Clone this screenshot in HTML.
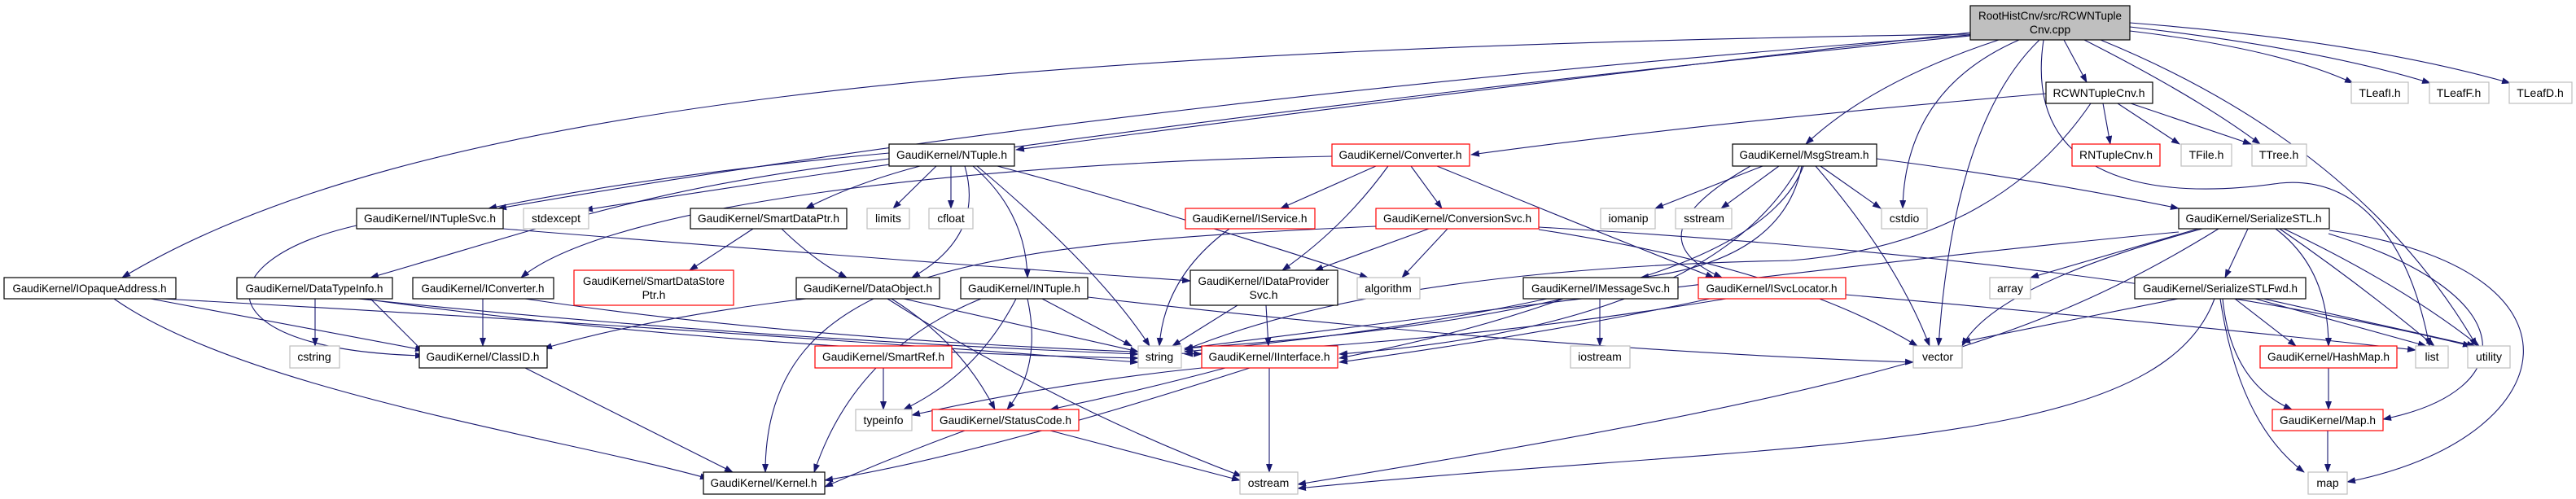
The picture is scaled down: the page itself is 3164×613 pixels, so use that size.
<!DOCTYPE html>
<html><head><meta charset="utf-8"><style>
html,body{margin:0;padding:0;background:#fff;}
svg{display:block;}
text{font-family:"Liberation Sans",sans-serif;font-size:14px;fill:#000;}
.e{fill:none;stroke:#191970;stroke-width:1.1;}
.b{fill:#fff;stroke:#000;stroke-width:1.2;}
.g{fill:#fff;stroke:#bfbfbf;stroke-width:1.2;}
.r{fill:#fff;stroke:#ff0000;stroke-width:1.2;}
</style></head><body>
<svg width="3164" height="613" viewBox="0 0 3164 613" xmlns="http://www.w3.org/2000/svg">
<defs><marker id="a" markerWidth="11" markerHeight="8" refX="10" refY="4" orient="auto" markerUnits="userSpaceOnUse"><path d="M0,0 L11,4 L0,8 z" fill="#191970"/></marker></defs>
<g class="e" marker-end="url(#a)">
<!-- root -->
<path d="M2420 40 Q1800 110 1248 184"/>
<path d="M2420 43 Q1400 120 612 256"/>
<path d="M2420 44 Q1500 135 718 258"/>
<path d="M2420 42 C1200 60 500 130 150 341"/>
<path d="M2455 49 Q2300 100 2218 177"/>
<path d="M2535 49 L2563 101"/>
<path d="M2480 49 Q2340 110 2337 256"/>
<path d="M2505 49 Q2400 150 2381 425"/>
<path d="M2510 49 C2480 250 2700 240 2800 225 C2900 215 2960 300 2984 425"/>
<path d="M2580 49 Q2900 180 3042 425"/>
<path d="M2560 49 Q2700 120 2776 177"/>
<path d="M2616 38 Q2800 60 2890 102"/>
<path d="M2616 33 Q2850 60 2985 102"/>
<path d="M2616 28 Q2900 50 3083 102"/>
<!-- NTuple -->
<path d="M1130 204 Q1050 225 990 256"/>
<path d="M1092 195 C800 230 700 270 455 341"/>
<path d="M1092 188 Q800 215 600 256"/>
<path d="M1150 204 L1097 256"/>
<path d="M1168 204 L1168 256"/>
<path d="M1185 204 Q1210 290 1120 341"/>
<path d="M1195 204 Q1260 260 1262 341"/>
<path d="M1200 204 Q1350 330 1412 425"/>
<path d="M1225 204 Q1400 250 1680 341"/>
<!-- Converter -->
<path d="M1690 204 L1573 256"/>
<path d="M1705 204 Q1650 280 1575 332"/>
<path d="M1733 204 L1771 256"/>
<path d="M1765 204 Q1950 280 2105 341"/>
<path d="M1636 192 C1200 200 750 250 640 341"/>
<!-- INTupleSvc -->
<path d="M438 277 C250 320 250 430 520 437"/>
<path d="M618 281 Q1100 320 1462 345"/>
<!-- SmartDataPtr -->
<path d="M925 281 L847 332"/>
<path d="M960 281 Q1000 320 1040 341"/>
<!-- OpaqueAddress -->
<path d="M185 367 L520 430"/>
<path d="M140 367 C300 480 700 540 870 588"/>
<path d="M200 367 Q800 400 1398 445"/>
<!-- DataTypeInfo -->
<path d="M387 367 L387 425"/>
<path d="M445 367 Q900 430 1398 440"/>
<path d="M440 367 Q900 415 1398 435"/>
<path d="M455 367 L522 434"/>
<!-- IConverter -->
<path d="M593 367 L593 425"/>
<path d="M645 367 Q1000 420 1476 435"/>
<!-- DataObject -->
<path d="M990 367 Q800 390 668 428"/>
<path d="M1110 367 Q1300 410 1398 432"/>
<path d="M1095 367 Q1180 420 1222 503"/>
<path d="M1090 367 Q1300 500 1525 585"/>
<!-- INTuple -->
<path d="M1205 367 Q1050 430 1000 580"/>
<path d="M1248 367 Q1200 460 1110 503"/>
<path d="M1262 367 Q1280 450 1237 503"/>
<path d="M1280 367 L1390 425"/>
<path d="M1336 365 Q1900 430 2350 445"/>
<!-- IDataProviderSvc -->
<path d="M1520 375 L1440 425"/>
<path d="M1555 375 L1558 425"/>
<!-- SmartRef -->
<path d="M1085 452 L1085 503"/>
<!-- Interface -->
<path d="M1476 452 Q1300 470 1120 510"/>
<path d="M1505 452 Q1400 480 1290 503"/>
<path d="M1535 452 Q1200 560 1013 590"/>
<path d="M1559 452 L1559 580"/>
<!-- StatusCode -->
<path d="M1185 529 Q1100 560 1013 598"/>
<path d="M1290 529 L1523 590"/>
<!-- ClassID -->
<path d="M645 452 L900 580"/>
<!-- IService -->
<path d="M1510 281 Q1430 340 1424 425"/>
<!-- ConversionSvc -->
<path d="M1690 278 C1200 300 940 330 940 580"/>
<path d="M1755 281 L1615 332"/>
<path d="M1778 281 L1722 341"/>
<path d="M1890 282 Q2200 330 2355 425"/>
<path d="M1890 279 Q2600 320 3035 425"/>
<!-- MsgStream -->
<path d="M2165 204 L2033 256"/>
<path d="M2185 204 L2114 256"/>
<path d="M2236 204 L2310 256"/>
<path d="M2230 204 Q2330 320 2370 425"/>
<path d="M2215 204 Q2150 380 1455 428"/>
<path d="M2213 204 Q2190 320 2015 341"/>
<path d="M2150 204 Q2000 290 2115 341"/>
<path d="M2305 195 Q2500 220 2676 256"/>
<path d="M2210 204 Q2100 400 1645 435"/>
<!-- RCWNTupleCnv -->
<path d="M2583 127 L2592 177"/>
<path d="M2601 127 L2677 177"/>
<path d="M2617 127 L2765 177"/>
<path d="M2513 115 Q2100 150 1807 190"/>
<path d="M2568 127 Q2450 300 2200 320 Q1700 330 1455 430"/>
<!-- IMessageSvc -->
<path d="M1965 367 L1965 425"/>
<path d="M1900 367 Q1700 410 1455 432"/>
<path d="M1920 367 Q1800 410 1645 440"/>
<!-- ISvcLocator -->
<path d="M2267 362 Q2700 400 2967 430"/>
<path d="M2120 367 Q1800 420 1455 435"/>
<path d="M2100 367 Q1900 410 1645 445"/>
<!-- SerializeSTL -->
<path d="M2700 281 L2494 341"/>
<path d="M2705 281 Q2450 350 2410 425"/>
<path d="M2761 281 L2733 341"/>
<path d="M2795 281 Q2860 330 2860 425"/>
<path d="M2800 281 Q2900 350 2990 425"/>
<path d="M2805 281 Q2950 350 3045 425"/>
<path d="M2860 287 C3100 360 3100 480 2927 515"/>
<path d="M2861 283 C3200 330 3150 540 2883 592"/>
<path d="M2725 281 C2500 420 2300 480 1594 595"/>
<path d="M2676 285 Q2300 320 1455 428"/>
<!-- SerializeSTLFwd -->
<path d="M2675 367 L2410 420"/>
<path d="M2745 367 L2820 425"/>
<path d="M2770 367 L2980 425"/>
<path d="M2780 367 L3040 425"/>
<path d="M2730 367 Q2740 470 2815 503"/>
<path d="M2727 367 Q2750 520 2830 580"/>
<path d="M2720 367 C2650 560 2200 540 1594 600"/>
<path d="M2860 452 L2860 503"/>
<path d="M2859 529 L2859 580"/>
</g>

<!-- nodes -->
<rect x="2420" y="7" width="196" height="42" fill="#bfbfbf" stroke="#000" stroke-width="1.2"/>
<text x="2518" y="24" text-anchor="middle" textLength="176" lengthAdjust="spacingAndGlyphs">RootHistCnv/src/RCWNTuple</text>
<text x="2518" y="41" text-anchor="middle">Cnv.cpp</text>

<g>
<rect class="b" x="2513" y="101" width="131" height="26"/><text x="2578" y="119" text-anchor="middle" textLength="113" lengthAdjust="spacingAndGlyphs">RCWNTupleCnv.h</text>
<rect class="g" x="2888" y="101" width="70" height="26"/><text x="2923" y="119" text-anchor="middle">TLeafI.h</text>
<rect class="g" x="2984" y="101" width="73" height="26"/><text x="3020" y="119" text-anchor="middle">TLeafF.h</text>
<rect class="g" x="3082" y="101" width="77" height="26"/><text x="3120" y="119" text-anchor="middle">TLeafD.h</text>

<rect class="b" x="1092" y="177" width="154" height="27"/><text x="1169" y="195" text-anchor="middle" textLength="136" lengthAdjust="spacingAndGlyphs">GaudiKernel/NTuple.h</text>
<rect class="r" x="1636" y="177" width="169" height="27"/><text x="1720" y="195" text-anchor="middle" textLength="151" lengthAdjust="spacingAndGlyphs">GaudiKernel/Converter.h</text>
<rect class="b" x="2128" y="177" width="177" height="27"/><text x="2216" y="195" text-anchor="middle" textLength="159" lengthAdjust="spacingAndGlyphs">GaudiKernel/MsgStream.h</text>
<rect class="r" x="2545" y="177" width="108" height="27"/><text x="2599" y="195" text-anchor="middle" textLength="90" lengthAdjust="spacingAndGlyphs">RNTupleCnv.h</text>
<rect class="g" x="2679" y="177" width="62" height="27"/><text x="2710" y="195" text-anchor="middle">TFile.h</text>
<rect class="g" x="2766" y="177" width="67" height="27"/><text x="2799" y="195" text-anchor="middle">TTree.h</text>

<rect class="b" x="438" y="256" width="180" height="25"/><text x="528" y="273" text-anchor="middle" textLength="162" lengthAdjust="spacingAndGlyphs">GaudiKernel/INTupleSvc.h</text>
<rect class="g" x="643" y="256" width="80" height="25"/><text x="683" y="273" text-anchor="middle">stdexcept</text>
<rect class="b" x="848" y="256" width="192" height="25"/><text x="944" y="273" text-anchor="middle" textLength="174" lengthAdjust="spacingAndGlyphs">GaudiKernel/SmartDataPtr.h</text>
<rect class="g" x="1065" y="256" width="52" height="25"/><text x="1091" y="273" text-anchor="middle">limits</text>
<rect class="g" x="1141" y="256" width="54" height="25"/><text x="1168" y="273" text-anchor="middle">cfloat</text>
<rect class="r" x="1456" y="256" width="159" height="25"/><text x="1535" y="273" text-anchor="middle" textLength="141" lengthAdjust="spacingAndGlyphs">GaudiKernel/IService.h</text>
<rect class="r" x="1690" y="256" width="200" height="25"/><text x="1790" y="273" text-anchor="middle" textLength="182" lengthAdjust="spacingAndGlyphs">GaudiKernel/ConversionSvc.h</text>
<rect class="g" x="1966" y="256" width="67" height="25"/><text x="2000" y="273" text-anchor="middle">iomanip</text>
<rect class="g" x="2058" y="256" width="69" height="25"/><text x="2093" y="273" text-anchor="middle">sstream</text>
<rect class="g" x="2311" y="256" width="56" height="25"/><text x="2339" y="273" text-anchor="middle">cstdio</text>
<rect class="b" x="2676" y="256" width="185" height="25"/><text x="2768" y="273" text-anchor="middle" textLength="167" lengthAdjust="spacingAndGlyphs">GaudiKernel/SerializeSTL.h</text>

<rect class="b" x="5" y="341" width="211" height="26"/><text x="110" y="359" text-anchor="middle" textLength="189" lengthAdjust="spacingAndGlyphs">GaudiKernel/IOpaqueAddress.h</text>
<rect class="b" x="291" y="341" width="191" height="26"/><text x="386" y="359" text-anchor="middle" textLength="169" lengthAdjust="spacingAndGlyphs">GaudiKernel/DataTypeInfo.h</text>
<rect class="b" x="507" y="341" width="173" height="26"/><text x="593" y="359" text-anchor="middle" textLength="151" lengthAdjust="spacingAndGlyphs">GaudiKernel/IConverter.h</text>
<rect class="r" x="705" y="332" width="196" height="43"/><text x="803" y="350" text-anchor="middle" textLength="174" lengthAdjust="spacingAndGlyphs">GaudiKernel/SmartDataStore</text><text x="803" y="367" text-anchor="middle">Ptr.h</text>
<rect class="b" x="978" y="341" width="176" height="26"/><text x="1066" y="359" text-anchor="middle" textLength="158" lengthAdjust="spacingAndGlyphs">GaudiKernel/DataObject.h</text>
<rect class="b" x="1180" y="341" width="156" height="26"/><text x="1258" y="359" text-anchor="middle" textLength="138" lengthAdjust="spacingAndGlyphs">GaudiKernel/INTuple.h</text>
<rect class="b" x="1462" y="332" width="181" height="43"/><text x="1552" y="350" text-anchor="middle" textLength="161" lengthAdjust="spacingAndGlyphs">GaudiKernel/IDataProvider</text><text x="1552" y="367" text-anchor="middle">Svc.h</text>
<rect class="g" x="1667" y="341" width="77" height="26"/><text x="1705" y="359" text-anchor="middle">algorithm</text>
<rect class="b" x="1871" y="341" width="190" height="26"/><text x="1966" y="359" text-anchor="middle" textLength="170" lengthAdjust="spacingAndGlyphs">GaudiKernel/IMessageSvc.h</text>
<rect class="r" x="2086" y="341" width="181" height="26"/><text x="2176" y="359" text-anchor="middle" textLength="161" lengthAdjust="spacingAndGlyphs">GaudiKernel/ISvcLocator.h</text>
<rect class="g" x="2444" y="341" width="50" height="26"/><text x="2469" y="359" text-anchor="middle">array</text>
<rect class="b" x="2622" y="341" width="210" height="26"/><text x="2727" y="359" text-anchor="middle" textLength="190" lengthAdjust="spacingAndGlyphs">GaudiKernel/SerializeSTLFwd.h</text>

<rect class="g" x="356" y="425" width="61" height="27"/><text x="386" y="443" text-anchor="middle">cstring</text>
<rect class="b" x="515" y="425" width="157" height="27"/><text x="593" y="443" text-anchor="middle" textLength="139" lengthAdjust="spacingAndGlyphs">GaudiKernel/ClassID.h</text>
<rect class="r" x="1001" y="425" width="168" height="27"/><text x="1085" y="443" text-anchor="middle" textLength="150" lengthAdjust="spacingAndGlyphs">GaudiKernel/SmartRef.h</text>
<rect class="g" x="1398" y="425" width="53" height="27"/><text x="1424" y="443" text-anchor="middle">string</text>
<rect class="r" x="1476" y="425" width="167" height="27"/><text x="1559" y="443" text-anchor="middle" textLength="149" lengthAdjust="spacingAndGlyphs">GaudiKernel/IInterface.h</text>
<rect class="g" x="1929" y="425" width="73" height="27"/><text x="1965" y="443" text-anchor="middle">iostream</text>
<rect class="g" x="2350" y="425" width="60" height="27"/><text x="2380" y="443" text-anchor="middle">vector</text>
<rect class="r" x="2776" y="425" width="168" height="27"/><text x="2860" y="443" text-anchor="middle" textLength="150" lengthAdjust="spacingAndGlyphs">GaudiKernel/HashMap.h</text>
<rect class="g" x="2967" y="425" width="40" height="27"/><text x="2987" y="443" text-anchor="middle">list</text>
<rect class="g" x="3031" y="425" width="52" height="27"/><text x="3057" y="443" text-anchor="middle">utility</text>

<rect class="g" x="1051" y="503" width="69" height="26"/><text x="1085" y="521" text-anchor="middle">typeinfo</text>
<rect class="r" x="1145" y="503" width="180" height="26"/><text x="1235" y="521" text-anchor="middle" textLength="162" lengthAdjust="spacingAndGlyphs">GaudiKernel/StatusCode.h</text>
<rect class="r" x="2791" y="503" width="136" height="26"/><text x="2859" y="521" text-anchor="middle" textLength="118" lengthAdjust="spacingAndGlyphs">GaudiKernel/Map.h</text>

<rect class="b" x="864" y="580" width="149" height="27"/><text x="938" y="598" text-anchor="middle" textLength="131" lengthAdjust="spacingAndGlyphs">GaudiKernel/Kernel.h</text>
<rect class="g" x="1523" y="580" width="71" height="27"/><text x="1558" y="598" text-anchor="middle">ostream</text>
<rect class="g" x="2835" y="580" width="48" height="27"/><text x="2859" y="598" text-anchor="middle">map</text>
</g>
</svg>
</body></html>
